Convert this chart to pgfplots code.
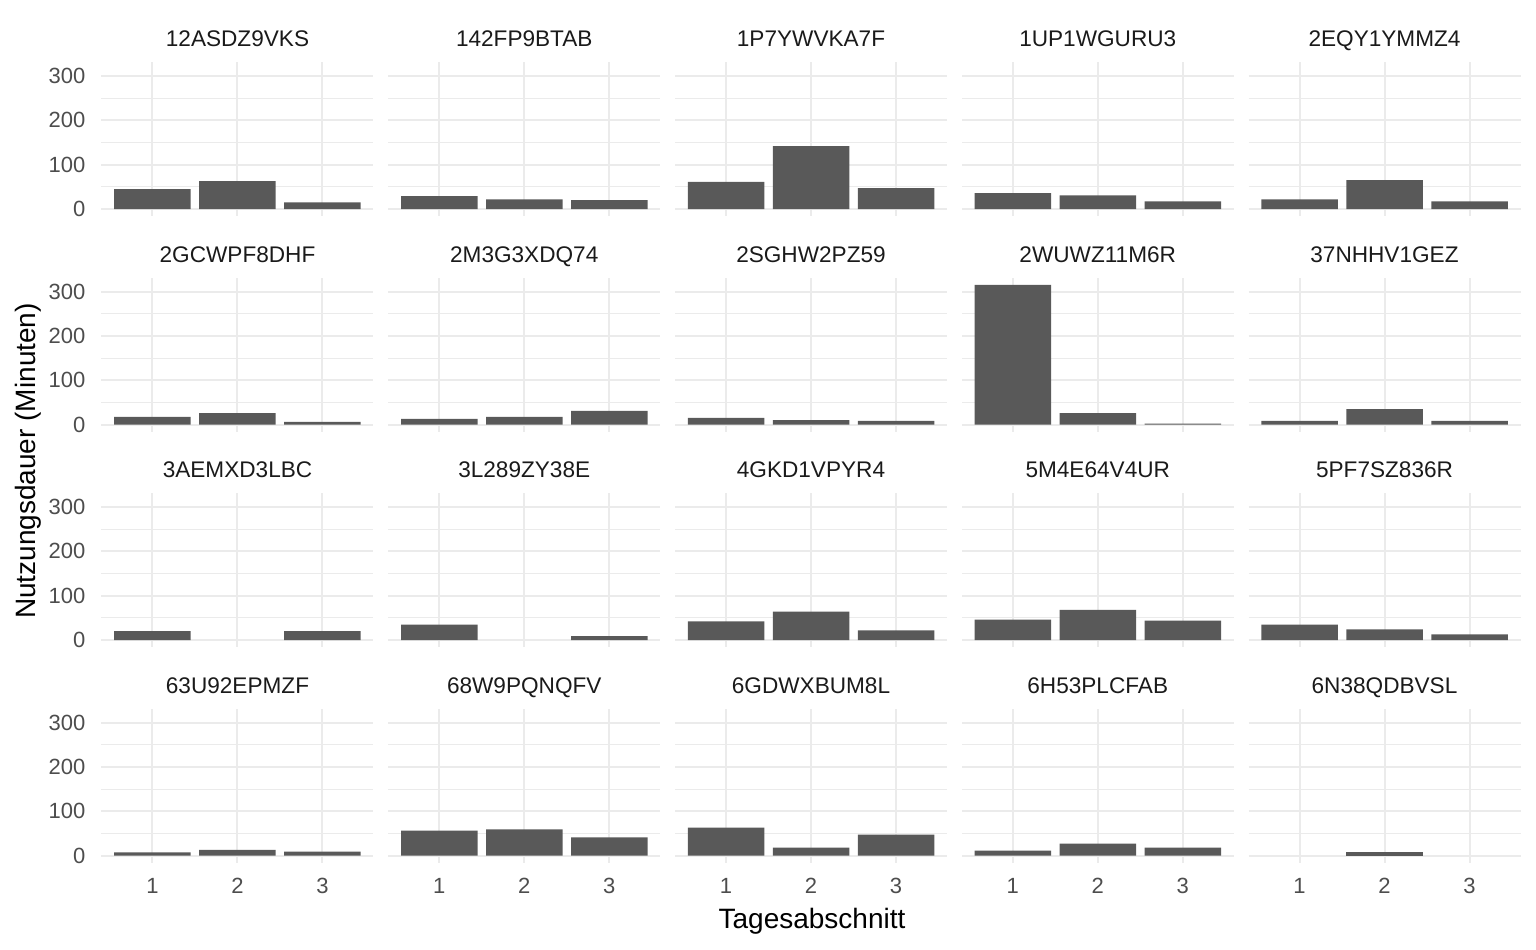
\documentclass[border=0pt]{standalone}
\usepackage{pgfplots}
\pgfplotsset{compat=1.18}
\usepackage{fontspec}
\setmainfont{Liberation Sans}
\definecolor{barc}{HTML}{595959}
\definecolor{gridc}{HTML}{EBEBEB}
\definecolor{tickc}{HTML}{4D4D4D}
\definecolor{stripc}{HTML}{1A1A1A}
\pgfplotsset{
  panel/.style={
    width=136pt, height=76.8pt, scale only axis,
    anchor=south west,
    xmin=0.4, xmax=3.6, ymin=-15.75, ymax=330.75,
    axis line style={draw=none},
    major tick length=0pt, minor tick length=0pt,
    xtick={1,2,3}, ytick={0,100,200,300}, minor ytick={50,150,250},
    xmajorgrids, ymajorgrids, yminorgrids,
    major grid style={draw=gridc, line width=1pt},
    minor grid style={draw=gridc, line width=0.5pt},
    /pgf/number format/assume math mode=true,
    tick label style={font=\fontsize{11}{13}\selectfont, text=tickc},
    yticklabel style={anchor=east, inner sep=0pt, xshift=-7.85pt},
    xticklabel style={anchor=north, inner sep=0pt, yshift=-7.5pt},
    title style={at={(0.5,1)}, anchor=base, yshift=1.85pt, inner sep=0pt,
      font=\fontsize{11.3}{13}\selectfont, text=stripc},
    ybar, bar width=0.9, bar shift=0pt,
  },
  noy/.style={yticklabels={}},
  nox/.style={xticklabels={}},
}
\newcommand{\panel}[5]{%
\begin{axis}[panel, at={({50.75pt+143.375pt*#1},{-108pt-107.75pt*#2})}, title={#3}, #5]
\addplot[fill=barc, draw=none] coordinates {#4};
\end{axis}}
\begin{document}
\begin{tikzpicture}
\path[use as bounding box] (0,0) rectangle (768pt,-474.5pt);
% row 0
\panel{0}{0}{12ASDZ9VKS}{(1,45) (2,63) (3,15)}{nox}
\panel{1}{0}{142FP9BTAB}{(1,29) (2,22) (3,20)}{nox,noy}
\panel{2}{0}{1P7YWVKA7F}{(1,61) (2,142) (3,47)}{nox,noy}
\panel{3}{0}{1UP1WGURU3}{(1,36) (2,31) (3,17)}{nox,noy}
\panel{4}{0}{2EQY1YMMZ4}{(1,22) (2,65) (3,17)}{nox,noy}
% row 1
\panel{0}{1}{2GCWPF8DHF}{(1,17) (2,26) (3,6)}{nox}
\panel{1}{1}{2M3G3XDQ74}{(1,13) (2,17) (3,31)}{nox,noy}
\panel{2}{1}{2SGHW2PZ59}{(1,15) (2,10) (3,8)}{nox,noy}
\panel{3}{1}{2WUWZ11M6R}{(1,315) (2,26) (3,2)}{nox,noy}
\panel{4}{1}{37NHHV1GEZ}{(1,8) (2,35) (3,8)}{nox,noy}
% row 2
\panel{0}{2}{3AEMXD3LBC}{(1,20) (3,20)}{nox}
\panel{1}{2}{3L289ZY38E}{(1,35) (3,9)}{nox,noy}
\panel{2}{2}{4GKD1VPYR4}{(1,42) (2,64) (3,22)}{nox,noy}
\panel{3}{2}{5M4E64V4UR}{(1,46) (2,68) (3,44)}{nox,noy}
\panel{4}{2}{5PF7SZ836R}{(1,35) (2,24) (3,13)}{nox,noy}
% row 3
\panel{0}{3}{63U92EPMZF}{(1,7) (2,13) (3,9)}{}
\panel{1}{3}{68W9PQNQFV}{(1,56) (2,59) (3,41)}{noy}
\panel{2}{3}{6GDWXBUM8L}{(1,63) (2,18) (3,47)}{noy}
\panel{3}{3}{6H53PLCFAB}{(1,11) (2,27) (3,18)}{noy}
\panel{4}{3}{6N38QDBVSL}{(2,9)}{noy}
\node[anchor=base, font=\fontsize{14}{16}\selectfont, inner sep=0pt] at (406pt,-464pt) {Tagesabschnitt};
\node[anchor=base, rotate=90, font=\fontsize{14}{16}\selectfont, inner sep=0pt] at (17.5pt,-230.5pt) {Nutzungsdauer (Minuten)};
\end{tikzpicture}
\end{document}
